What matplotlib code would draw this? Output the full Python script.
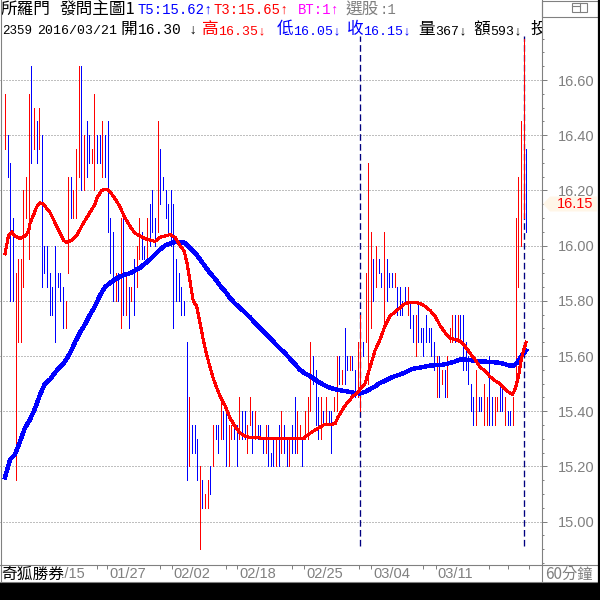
import matplotlib
matplotlib.use("Agg")
import matplotlib.pyplot as plt
from matplotlib.lines import Line2D
from matplotlib.patches import Polygon, Rectangle
from matplotlib.ticker import MultipleLocator, FormatStrFormatter

# 60分鐘K線 (所羅門 2359): 每根的最高 / 最低 / 漲(R) 跌(B)
highs = [
    16.55, 16.40, 16.30, 16.10, 15.90, 15.95, 15.95, 16.20, 16.25, 16.55,
    16.65, 16.50, 16.45, 16.50, 16.40, 16.00, 16.00, 15.90, 15.85, 16.00,
    15.90, 15.90, 15.85, 15.80, 16.25, 16.25, 16.20, 16.35, 16.65, 16.65,
    16.40, 16.45, 16.40, 16.35, 16.55,
    16.40, 16.40, 16.45, 16.40, 16.45, 16.10, 16.05, 15.90, 15.90, 16.10,
    16.10, 15.90, 15.85, 15.85, 15.95, 16.00, 16.10, 16.05, 16.00, 16.10,
    16.15, 16.20, 16.10, 16.45, 16.35, 16.25, 16.20, 16.15, 16.20, 16.15,
    15.95, 15.90, 15.85, 15.80,
    15.65, 15.45, 15.35, 15.35, 15.30, 15.20, 15.15, 15.10, 15.15, 15.20,
    15.35, 15.35, 15.35, 15.45, 15.40, 15.40, 15.35, 15.35, 15.35, 15.35,
    15.45, 15.40, 15.40, 15.35, 15.45, 15.40, 15.40, 15.35, 15.35, 15.30,
    15.35, 15.35, 15.25, 15.30,
    15.30, 15.35, 15.40, 15.35, 15.30, 15.30, 15.35, 15.45, 15.40, 15.35,
    15.30, 15.40, 15.45, 15.65, 15.60, 15.55, 15.45, 15.45, 15.40, 15.45,
    15.40, 15.40, 15.45, 15.60, 15.60, 15.55, 15.70, 15.60, 15.60, 15.60,
    15.55, 15.65, 15.75, 15.65,
    15.90, 16.30, 16.05, 15.95, 16.00, 15.95, 15.90, 16.05, 15.95, 15.90,
    15.90, 15.90, 15.85, 15.85, 15.80, 15.85, 15.85, 15.80, 15.75, 15.75,
    15.80, 15.70, 15.70, 15.75, 15.70, 15.70, 15.65, 15.60, 15.60, 15.55,
    15.55, 15.60, 15.70, 15.75,
    15.75, 15.75, 15.75, 15.75, 15.65, 15.60, 15.50, 15.45, 15.55, 15.45,
    15.45, 15.50, 15.45, 15.60, 15.45, 15.45, 15.45, 15.50, 15.50, 15.45,
    15.40, 15.40, 15.45, 16.10, 16.25, 16.45, 16.75, 16.35,
]
lows = [
    16.35, 16.25, 15.80, 15.80, 15.15, 15.65, 15.65, 15.85, 16.10, 15.95,
    16.30, 16.35, 16.30, 16.35, 15.85, 15.90, 15.85, 15.75, 15.75, 15.65,
    15.85, 15.80, 15.70, 15.70, 15.90, 16.10, 16.10, 16.10, 16.25, 16.20,
    16.20, 16.25, 16.30, 16.30, 16.20,
    16.30, 16.30, 16.25, 16.25, 16.05, 15.90, 15.80, 15.80, 15.80, 15.70,
    15.75, 15.75, 15.70, 15.80, 15.75, 15.85, 15.95, 15.95, 15.95, 15.95,
    16.00, 16.05, 16.00, 16.05, 16.15, 16.20, 16.10, 16.05, 16.00, 15.70,
    15.80, 15.80, 15.75, 15.75,
    15.15, 15.20, 15.25, 15.25, 15.15, 14.90, 15.05, 15.05, 15.05, 15.10,
    15.20, 15.30, 15.25, 15.30, 15.30, 15.20, 15.20, 15.30, 15.30, 15.20,
    15.30, 15.30, 15.30, 15.25, 15.35, 15.25, 15.30, 15.30, 15.30, 15.25,
    15.25, 15.20, 15.20, 15.20,
    15.20, 15.20, 15.25, 15.25, 15.20, 15.20, 15.25, 15.25, 15.25, 15.30,
    15.20, 15.30, 15.30, 15.40, 15.50, 15.35, 15.30, 15.30, 15.35, 15.35,
    15.35, 15.25, 15.40, 15.40, 15.50, 15.50, 15.50, 15.55, 15.55, 15.55,
    15.45, 15.45, 15.40, 15.60,
    15.65, 15.50, 15.70, 15.80, 15.85, 15.90, 15.85, 15.70, 15.80, 15.85,
    15.85, 15.85, 15.75, 15.75, 15.75, 15.80, 15.75, 15.70, 15.65, 15.60,
    15.65, 15.65, 15.60, 15.65, 15.65, 15.60, 15.55, 15.45, 15.45, 15.50,
    15.45, 15.45, 15.65, 15.65,
    15.65, 15.65, 15.65, 15.55, 15.55, 15.50, 15.40, 15.35, 15.35, 15.40,
    15.40, 15.35, 15.35, 15.35, 15.35, 15.35, 15.40, 15.40, 15.40, 15.35,
    15.35, 15.35, 15.35, 15.50, 15.85, 16.00, 16.10, 16.05,
]
updown = (
    "RBBBRRRRRRBRBRBBBBBBBBBRRBRRRBRBBRR"
    "BBRBBBBRBRBRBRBRRBBRBBBRBBBBBBBBBB"
    "BRBBBRBRRBRBBRBBRRBBRBBRRBRBBBRBBB"
    "RBRBBRBBRRBRRRBBBRBRBBRRBRBBRBBRRB"
    "RRRBRBBRBBBRBBBBRBBRBBBBBBBRBRBRRR"
    "BRBBBBBBRBBRRBBRRBBRBBRRRRRB"
)

# T3 (紅) / T5 (藍) 均線, 以K線序號取樣
ma_t3_x = [0, 0.6, 1.3, 2.5, 3.8, 5.7, 7.6, 8.9, 9.5, 10.8, 12.0, 13.3, 14.6,
           15.8, 17.1, 18.4, 19.6, 20.9, 22.2, 23.4, 25.3, 27.2, 29.1, 31.0,
           32.9, 34.2, 34.8, 36.7, 38.6, 39.9, 41.8, 43.7, 45.6, 47.5, 49.4,
           51.3, 53.2, 55.1, 57.0, 58.9, 60.8, 62.7, 64.6, 66.5, 68.1, 69.3,
           70.3, 71.5, 72.8, 74.1, 75.3, 76.6, 77.9, 79.1, 80.4, 81.7, 83.6,
           85.5, 87.4, 89.3, 91.2, 93.1, 96.9, 100.7, 113.2, 115.2, 116.6,
           118.4, 121.0, 123.5, 125.4, 126.6, 128.5, 130.4, 132.3, 134.2,
           134.9, 136.8, 138.7, 140.6, 142.5, 144.4, 146.3, 148.2, 150.1,
           152.0, 153.9, 155.8, 157.7, 159.6, 161.5, 163.4, 165.3, 167.2,
           169.1, 172.9, 174.8, 176.7, 178.6, 180.5, 182.4, 184.3, 186.2,
           188.1, 190.0, 191.9, 192.8, 193.8, 195.1, 196.1, 197.0, 198.0]
ma_t3 = [15.97, 16.00, 16.035, 16.05, 16.035, 16.025, 16.035, 16.05, 16.08,
         16.11, 16.14, 16.155, 16.15, 16.135, 16.12, 16.095, 16.07, 16.045,
         16.02, 16.01, 16.02, 16.035, 16.07, 16.10, 16.13, 16.15, 16.17,
         16.20, 16.205, 16.195, 16.17, 16.14, 16.10, 16.07, 16.045, 16.035,
         16.025, 16.02, 16.015, 16.03, 16.035, 16.04, 16.03, 16.00, 15.98,
         15.93, 15.87, 15.80, 15.78, 15.72, 15.66, 15.605, 15.56, 15.52,
         15.485, 15.455, 15.42, 15.375, 15.345, 15.32, 15.31, 15.305, 15.303,
         15.30, 15.30, 15.315, 15.325, 15.335, 15.35, 15.352, 15.355, 15.38,
         15.41, 15.435, 15.455, 15.47, 15.48, 15.50, 15.56, 15.62, 15.66,
         15.71, 15.745, 15.76, 15.775, 15.79, 15.795, 15.795, 15.79, 15.78,
         15.765, 15.745, 15.71, 15.685, 15.665, 15.655, 15.635, 15.61, 15.587,
         15.56, 15.545, 15.525, 15.51, 15.50, 15.48, 15.465, 15.46, 15.48,
         15.525, 15.585, 15.62, 15.65]

ma_t5_x = [0, 1.9, 3.8, 5.7, 7.6, 9.5, 11.4, 13.3, 15.2, 17.1, 19.0, 20.9,
           22.8, 24.7, 26.6, 28.5, 30.4, 32.3, 34.2, 36.1, 38.0, 39.9, 41.8,
           43.7, 45.6, 47.5, 49.4, 51.3, 53.2, 55.1, 57.0, 58.9, 60.8, 62.7,
           64.6, 66.5, 68.4, 70.3, 72.2, 74.1, 76.0, 77.9, 79.8, 81.7, 83.6,
           85.5, 87.4, 89.3, 91.2, 93.1, 95.0, 96.9, 98.8, 100.7, 102.6,
           104.5, 106.4, 108.3, 110.2, 112.1, 114.0, 115.9, 117.8, 119.7,
           121.6, 123.5, 125.4, 127.3, 129.2, 131.1, 133.0, 134.9, 136.8,
           138.7, 140.6, 142.5, 144.4, 146.3, 148.2, 150.1, 152.0, 153.9,
           155.8, 157.7, 159.6, 161.5, 163.4, 165.3, 167.2, 169.1, 171.0,
           172.9, 174.8, 176.7, 178.6, 180.5, 182.4, 184.3, 186.2, 188.1,
           190.0, 191.9, 193.1, 194.5, 195.8, 197.0, 198.0]
ma_t5 = [15.16, 15.225, 15.243, 15.29, 15.34, 15.37, 15.41, 15.46, 15.50,
         15.515, 15.54, 15.56, 15.58, 15.61, 15.65, 15.685, 15.715, 15.75,
         15.78, 15.82, 15.85, 15.865, 15.878, 15.887, 15.895, 15.90, 15.91,
         15.92, 15.935, 15.95, 15.968, 15.986, 16.0, 16.008, 16.013, 16.013,
         16.01, 15.99, 15.974, 15.95, 15.925, 15.90, 15.88, 15.855, 15.835,
         15.81, 15.79, 15.775, 15.757, 15.74, 15.72, 15.70, 15.684, 15.666,
         15.645, 15.627, 15.61, 15.59, 15.57, 15.55, 15.536, 15.527, 15.515,
         15.503, 15.493, 15.485, 15.48, 15.476, 15.473, 15.47, 15.466, 15.464,
         15.47, 15.48, 15.49, 15.503, 15.51, 15.52, 15.527, 15.533, 15.54,
         15.55, 15.555, 15.558, 15.562, 15.565, 15.567, 15.567, 15.57, 15.575,
         15.58, 15.587, 15.587, 15.585, 15.583, 15.58, 15.58, 15.578, 15.577,
         15.575, 15.57, 15.565, 15.565, 15.575, 15.593, 15.61, 15.62]

date_labels = ["01/15", "01/27", "02/02", "02/18", "02/25", "03/04", "03/11"]
date_label_bars = [15.6, 38.8, 63.4, 88.1, 113.6, 139.1, 163.6]
date_minor_bars = [35, 59, 84, 109, 134.5, 159, 184, 191, 199]
marker_bars = [135, 197]
last_close = 16.15

GRAY = "#808080"
RED = "#FF0000"
BLUE = "#0000FF"
MONO = ["Liberation Mono", "Noto Sans CJK TC"]
CJK = ["Noto Sans CJK TC", "DejaVu Sans"]
SANS = ["Liberation Sans", "Noto Sans CJK TC"]
plt.rcParams["font.family"] = SANS

# pixel layout of the terminal window
X0, STEP = 5.0, 2.632      # first bar x, bar spacing (px)
AX_RIGHT, AX_TOP, AX_BOT = 542, 36, 565
P_REF, Y_REF, PX_PER = 16.60, 80, 276.0


def fx(px):
    return px / 600.0


def fy(py):
    return 1 - py / 600.0


fig = plt.figure(figsize=(6, 6), dpi=100, facecolor="white")
ax = fig.add_axes([0, fy(AX_BOT), fx(AX_RIGHT), (AX_BOT - AX_TOP) / 600.0])
ax.set_xlim(-X0 / STEP, (AX_RIGHT - X0) / STEP)
ax.set_ylim(P_REF - (AX_BOT - Y_REF) / PX_PER, P_REF + (Y_REF - AX_TOP) / PX_PER)
for s in ax.spines.values():
    s.set_visible(False)

n = len(highs)
cols = [RED if c == "R" else BLUE for c in updown]
ax.vlines(range(n), lows, highs, colors=cols, linewidth=0.5,
          antialiased=False, zorder=2)
ax.vlines(marker_bars, 14.91, 16.76, colors="#000080", linewidth=0.95,
          linestyles=(0, (5, 2.5)), zorder=1.5)
ax.plot(ma_t5_x, ma_t5, color=BLUE, linewidth=2.4, antialiased=False, zorder=3)
ax.plot(ma_t3_x, ma_t3, color=RED, linewidth=1.5, antialiased=False, zorder=4)

ax.set_axisbelow(True)
ax.yaxis.tick_right()
ax.yaxis.set_major_locator(MultipleLocator(0.2))
ax.yaxis.set_minor_locator(MultipleLocator(0.05))
ax.yaxis.set_major_formatter(FormatStrFormatter("%.2f"))
ax.yaxis.grid(True, which="major", color=GRAY, linestyle=(0, (1, 2)),
              linewidth=0.72)
ax.tick_params(axis="y", which="major", length=3.6, width=0.72, color=GRAY,
               labelcolor=GRAY, labelsize=10.5, pad=7.9)
ax.tick_params(axis="y", which="minor", length=1.4, width=0.72, color=GRAY)

ax.set_xticks(date_label_bars + date_minor_bars)
ax.tick_params(axis="x", length=3.0, width=0.72, color=GRAY, labelbottom=False)
for lab, b in zip(date_labels, date_label_bars):
    ax.annotate(lab, xy=(b, 0), xycoords=("data", "axes fraction"),
                xytext=(2, -2.5), textcoords="offset pixels", ha="left",
                va="top", color=GRAY, fontsize=10.5, annotation_clip=False)

# current price tag on the scale
tag = Polygon([(fx(543), fy(204)), (fx(550), fy(196.5)), (fx(597), fy(196.5)),
               (fx(597), fy(211.5)), (fx(550), fy(211.5))], closed=True,
              transform=fig.transFigure, facecolor="#FFF6E8", edgecolor="none",
              zorder=2)
fig.patches.append(tag)
fig.text(fx(557), fy(204), f"{last_close:.2f}", color=RED, fontsize=10.5,
         ha="left", va="center", zorder=3)

# header lines: (x px, text, colour, family, size)
line1 = [(1, "所羅門", "black", CJK, 12), (60, "發問主圖1", "black", CJK, 12),
         (137, "T5:15.62↑", BLUE, MONO, 10), (214, "T3:15.65↑", RED, MONO, 10),
         (298, "BT:1↑", "#FF00FF", MONO, 10), (346, "選股", GRAY, CJK, 12),
         (380, ":1", GRAY, MONO, 10)]
line2 = [(2, "2359", "black", MONO, 9), (37, "2016/03/21", "black", MONO, 9.5),
         (121, "開", "black", CJK, 12), (138, "16.30", "black", MONO, 10.5),
         (188, "↓", "black", MONO, 10), (202, "高", RED, CJK, 12),
         (218, "16.35↓", RED, MONO, 9.5), (277, "低", BLUE, CJK, 12),
         (293, "16.05↓", BLUE, MONO, 9.5), (347, "收", BLUE, CJK, 12),
         (363, "16.15↓", BLUE, MONO, 9.5), (418, "量", "black", CJK, 12),
         (435, "367↓", "black", MONO, 9.5), (473, "額", "black", CJK, 12),
         (490, "593↓", "black", MONO, 9.5), (530, "投", "black", CJK, 12)]
for base, items in ((14, line1), (34, line2)):
    for x, s, c, fam, size in items:
        fig.text(fx(x), fy(base), s, color=c, fontsize=size, family=fam,
                 ha="left", va="baseline")

# right column boxes and frame
fig.patches.append(Rectangle((fx(542), fy(36)), fx(56), 19 / 600,
                             transform=fig.transFigure, facecolor="white",
                             edgecolor="none", zorder=4))
fig.patches.append(Rectangle((fx(542), fy(17)), fx(56), 16.5 / 600,
                             transform=fig.transFigure, facecolor="white",
                             edgecolor=GRAY, linewidth=0.8, zorder=5))
fig.patches.append(Rectangle((fx(572), fy(12)), fx(15), 9 / 600,
                             transform=fig.transFigure, facecolor="none",
                             edgecolor=GRAY, linewidth=0.8, zorder=6))
fig.lines.append(Line2D([fx(580), fx(580)], [fy(3), fy(12)],
                        transform=fig.transFigure, color=GRAY, lw=0.8, zorder=6))
fig.lines.append(Line2D([fx(572), fx(580)], [fy(6), fy(6)],
                        transform=fig.transFigure, color=GRAY, lw=0.8, zorder=6))

fig.patches.append(Rectangle((0, 0), 1, fy(582), transform=fig.transFigure,
                             facecolor="black", edgecolor="none", zorder=5))
frame = [([0.5, 0.5], [0, 582]), ([542, 542], [0, 582]),
         ([0, 598], [565, 565]), ([0, 598], [581.5, 581.5])]
for xs, ys in frame:
    fig.lines.append(Line2D([fx(v) for v in xs], [fy(v) for v in ys],
                            transform=fig.transFigure, color=GRAY, lw=0.8,
                            zorder=6))
fig.lines.append(Line2D([fx(599), fx(599)], [0, 1], transform=fig.transFigure,
                        color="black", lw=1.6, zorder=6))

# bottom strip texts
fig.patches.append(Rectangle((0, fy(581)), fx(62), 15 / 600,
                             transform=fig.transFigure, facecolor="white",
                             edgecolor="none", zorder=4))
fig.text(fx(1), fy(574), "奇狐勝券", color="black", fontsize=11.3, family=CJK,
         ha="left", va="center", zorder=7)
fig.text(fx(545), fy(574), "60分鐘", color=GRAY, fontsize=11, family=CJK,
         ha="left", va="center", zorder=7)

fig.savefig("out.png", dpi=100, facecolor="white")
